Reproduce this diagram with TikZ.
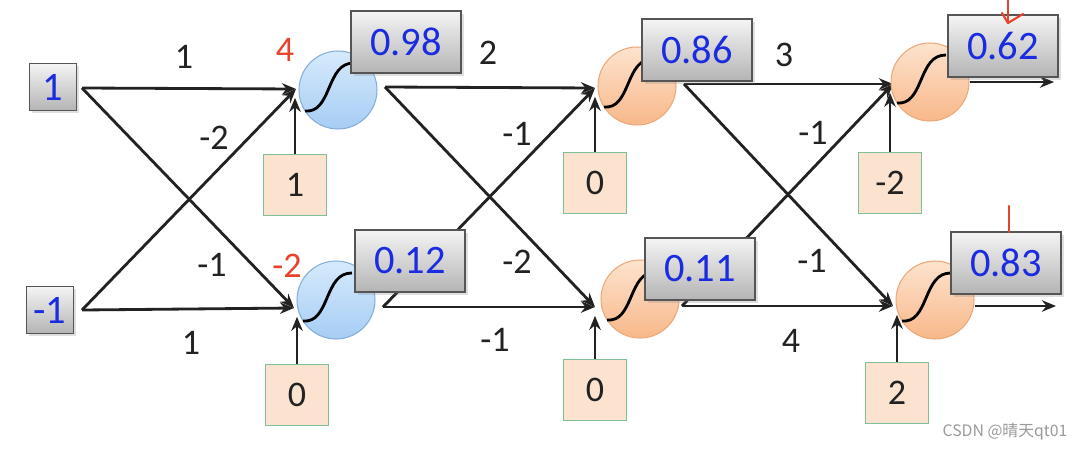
\documentclass[tikz,border=0pt]{standalone}
\usepackage{fontspec}
\setmainfont{Carlito}
\newfontfamily\cjkf{Noto Sans CJK SC}
\usetikzlibrary{arrows.meta,backgrounds,shadows,calc}
\definecolor{valblue}{HTML}{1A2BE0}
\definecolor{boxtop}{HTML}{F4F4F4}
\definecolor{boxbot}{HTML}{B4B4B4}
\definecolor{boxborder}{HTML}{555555}
\definecolor{biasfill}{HTML}{FBE3D0}
\definecolor{biasborder}{HTML}{7FBF98}
\definecolor{textdark}{HTML}{222222}
\definecolor{bluetop}{HTML}{D6EAFC}
\definecolor{bluebot}{HTML}{A6CDF4}
\definecolor{bluebd}{HTML}{86AEDB}
\definecolor{orangetop}{HTML}{FDE3CE}
\definecolor{orangebot}{HTML}{F8B88A}
\definecolor{orangebd}{HTML}{EBA878}
\definecolor{redlab}{HTML}{E8432A}
\definecolor{wmgray}{HTML}{9A9A9A}
\tikzset{
  graybox/.style={draw=boxborder, line width=0.8pt, top color=boxtop, bottom color=boxbot,
    text=valblue, font=\fontsize{23}{26}\selectfont, inner sep=0pt,
    drop shadow={opacity=0.25, shadow xshift=1.5pt, shadow yshift=-1.5pt}},
  inbox/.style={graybox, minimum width=0.94cm, minimum height=0.94cm},
  outbox/.style={graybox, minimum width=2.2cm, minimum height=1.24cm},
  biasbox/.style={draw=biasborder, line width=1pt, fill=biasfill, minimum width=1.26cm,
    minimum height=1.22cm, font=\fontsize{20.5}{24}\selectfont, text=textdark, inner sep=0pt},
  blueneuron/.style={circle, draw=bluebd, top color=bluetop, bottom color=bluebot,
    minimum size=1.56cm, inner sep=0pt, line width=0.6pt},
  orangeneuron/.style={circle, draw=orangebd, top color=orangetop, bottom color=orangebot,
    minimum size=1.56cm, inner sep=0pt, line width=0.6pt},
  wlabel/.style={font=\fontsize{20.5}{24}\selectfont, text=textdark, inner sep=0pt},
  redlabel/.style={wlabel, text=redlab},
  conn/.style={line width=1.6pt, textdark, -{Stealth[length=8pt,width=6.5pt]}},
  biasconn/.style={conn, shorten >=5pt},
  sig/.style={line width=1.6pt, black},
  redmark/.style={line width=1.2pt, redlab, line cap=round, line join=round}
}
\newcommand\sigcurve[1]{\draw[sig, shift={(#1.center)}] (-33,21) .. controls (-20,22) and (-15,12) .. (-9,-2) .. controls (-3,-16) and (2,-27) .. (16,-27);}
\begin{document}
\begin{tikzpicture}[x=0.02cm,y=-0.02cm]
\useasboundingbox (0,0) rectangle (1082,450);
% neurons
\node[blueneuron] (n1) at (338,90) {};
\node[blueneuron] (n2) at (336,300) {};
\node[orangeneuron] (n3) at (637,86) {};
\node[orangeneuron] (n4) at (640,299) {};
\node[orangeneuron] (n5) at (930,82) {};
\node[orangeneuron] (n6) at (935,300) {};
\sigcurve{n1}\sigcurve{n2}\sigcurve{n3}\sigcurve{n4}\sigcurve{n5}\sigcurve{n6}
% input boxes
\node[inbox] (x1) at (53,87) {1};
\node[inbox] (x2) at (50,310) {-1};
% output boxes
\node[outbox] (v1) at (406,42) {0.98};
\node[outbox] (v2) at (410,261) {0.12};
\node[outbox] (v3) at (697,50) {0.86};
\node[outbox] (v4) at (700,269) {0.11};
\node[outbox] (v5) at (1003,46) {0.62};
\node[outbox] (v6) at (1006,263) {0.83};
% bias boxes
\node[biasbox] (b1) at (295,185) {1};
\node[biasbox] (b2) at (297,395) {0};
\node[biasbox] (b3) at (595,183) {0};
\node[biasbox] (b4) at (595,390) {0};
\node[biasbox] (b5) at (890,183) {-2};
\node[biasbox] (b6) at (897,393) {2};
% connection points
\coordinate (s1) at (82,88);
\coordinate (s2) at (82,310);
\coordinate (i1) at (296,89);
\coordinate (i2) at (294,308);
\coordinate (o1) at (385,87);
\coordinate (o2) at (383,307);
\coordinate (i3) at (595,88);
\coordinate (i4) at (595,307);
\coordinate (o3) at (684,84);
\coordinate (o4) at (682,306);
\coordinate (i5) at (893,84);
\coordinate (i6) at (893,306);
\coordinate (e5) at (1054,82);
\coordinate (e6) at (1056,306);
\begin{scope}[on background layer]
\fill[white] (0,0) rectangle (1082,450);
\draw[conn] (s1) -- (i1);
\draw[conn] (s1) -- (i2);
\draw[conn] (s2) -- (i1);
\draw[conn] (s2) -- (i2);
\draw[biasconn] (b1.north) -- (b1.north |- i1);
\draw[biasconn] (b2.north) -- (b2.north |- i2);
\draw[conn] (o1) -- (i3);
\draw[conn] (o1) -- (i4);
\draw[conn] (o2) -- (i3);
\draw[conn] (o2) -- (i4);
\draw[biasconn] (b3.north) -- (b3.north |- i3);
\draw[biasconn] (b4.north) -- (b4.north |- i4);
\draw[conn] (o3) -- (i5);
\draw[conn] (o3) -- (i6);
\draw[conn] (o4) -- (i5);
\draw[conn] (o4) -- (i6);
\draw[biasconn] (b5.north) -- (b5.north |- i5);
\draw[biasconn] (b6.north) -- (b6.north |- i6);
\draw[conn] (n5.east |- e5) -- (e5);
\draw[conn] (n6.east |- e6) -- (e6);
\end{scope}
% weight labels
\node[wlabel] (w1) at (184,57) {1};
\node[wlabel] (w2) at (214,138) {-2};
\node[wlabel] (w3) at (212,265) {-1};
\node[wlabel] (w4) at (191,343) {1};
\node[redlabel] (z1) at (285,50) {4};
\node[redlabel] (z2) at (287,266) {-2};
\node[wlabel] (w5) at (488,53) {2};
\node[wlabel] (w6) at (517,134) {-1};
\node[wlabel] (w7) at (517,262) {-2};
\node[wlabel] (w8) at (495,340) {-1};
\node[wlabel] (w9) at (784,55) {3};
\node[wlabel] (w10) at (813,133) {-1};
\node[wlabel] (w11) at (812,261) {-1};
\node[wlabel] (w12) at (791,341) {4};
% red pen marks
\draw[redmark] (1008,0) -- (1008,23);
\draw[redmark] (1002,13) -- (1008,23) -- (1023,14);
\draw[redmark] (1009,206) -- (1009,232);
% watermark
\node[font=\cjkf\fontsize{9}{11}\selectfont, text=wmgray, inner sep=0pt] (wm) at (1005,432) {CSDN @晴天qt01};
\end{tikzpicture}
\end{document}
